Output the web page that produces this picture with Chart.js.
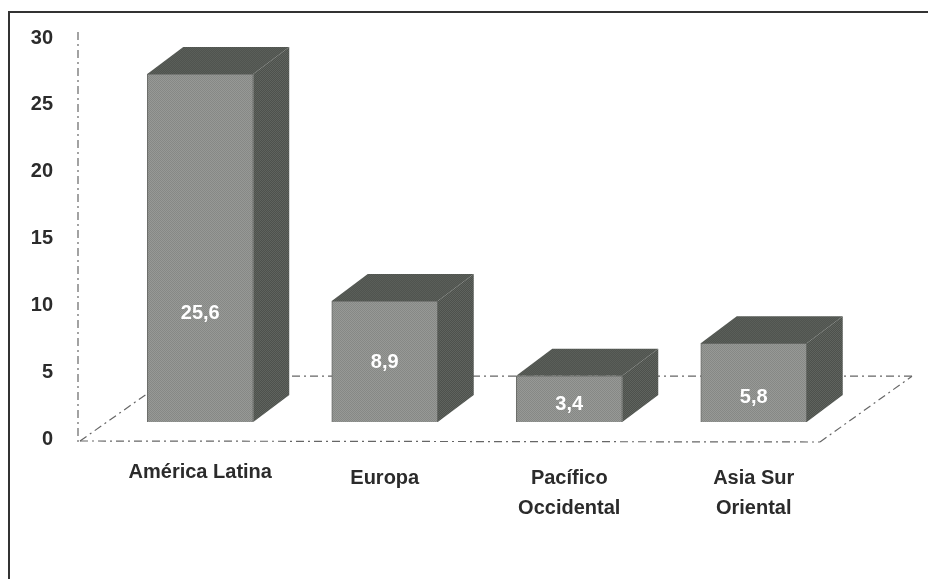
<!DOCTYPE html>
<html>
<head>
<meta charset="utf-8">
<style>
  html, body { margin: 0; padding: 0; background: #fff; }
  #wrap { width: 928px; height: 579px; }
</style>
<script src="https://cdn.jsdelivr.net/npm/chart.js@4"></script>
</head>
<body>
<div id="wrap"><canvas id="myChart" width="928" height="579"></canvas></div>
<script>
const categories = [['América Latina'], ['Europa'], ['Pacífico', 'Occidental'], ['Asia Sur', 'Oriental']];
const values = [25.6, 8.9, 3.4, 5.8];
const yTicks = [0, 5, 10, 15, 20, 25, 30];

// how far each value label sits below the middle of its bar front
const labelDrop = [65, 1, 6, 15];

const depthX = 36;
const depthY = 27;
const textFont = '"Liberation Sans", Arial, sans-serif';

function halftone(a, b) {
    const c = document.createElement('canvas');
    c.width = 2;
    c.height = 2;
    const g = c.getContext('2d');
    g.fillStyle = a;
    g.fillRect(0, 0, 2, 2);
    g.fillStyle = b;
    g.fillRect(0, 0, 1, 1);
    g.fillRect(1, 1, 1, 1);
    return g.createPattern(c, 'repeat');
}

function dashLine(ctx, x1, y1, x2, y2) {
    ctx.beginPath();
    ctx.moveTo(x1, y1);
    ctx.lineTo(x2, y2);
    ctx.stroke();
}

const floorPlugin = {
    id: 'floor',
    beforeDraw(chart) {
        const {ctx, width, height} = chart;
        ctx.save();
        // scanned page frame, open at the bottom and right
        ctx.strokeStyle = '#333';
        ctx.lineWidth = 2;
        ctx.beginPath();
        ctx.moveTo(9, height);
        ctx.lineTo(9, 12);
        ctx.lineTo(width, 12);
        ctx.stroke();
        ctx.restore();
    },
    beforeDatasetsDraw(chart) {
        const {ctx, chartArea, scales} = chart;
        const left = chartArea.left - 30;
        const floorFront = scales.y.getPixelForValue(0) + 5;
        const floorBack = scales.y.getPixelForValue(4.55);
        ctx.save();
        ctx.strokeStyle = '#666';
        ctx.lineWidth = 1.2;
        ctx.setLineDash([8, 4, 2, 4]);
        dashLine(ctx, left, scales.y.getPixelForValue(30) - 4, left, floorFront);
        dashLine(ctx, left + 2, floorFront - 1, left + 742, floorFront);
        dashLine(ctx, left + 742, floorFront, left + 834, floorBack);
        dashLine(ctx, left + 834, floorBack, left + 100, floorBack);
        dashLine(ctx, left + 2, floorFront - 1, left + 94, floorBack);
        ctx.restore();
    }
};

const boxPlugin = {
    id: 'box',
    afterDatasetsDraw(chart) {
        const {ctx} = chart;
        const bars = chart.getDatasetMeta(0).data;
        const base = chart.scales.yBars.getPixelForValue(0);
        const sideFill = halftone('#4d514c', '#5f635e');
        const topFill = halftone('#50544f', '#5a5e59');
        bars.forEach((bar, i) => {
            const l = bar.x - bar.width / 2;
            const r = bar.x + bar.width / 2;
            const t = bar.y;
            ctx.save();
            ctx.fillStyle = topFill;
            ctx.beginPath();
            ctx.moveTo(l, t);
            ctx.lineTo(l + depthX, t - depthY);
            ctx.lineTo(r + depthX, t - depthY);
            ctx.lineTo(r, t);
            ctx.closePath();
            ctx.fill();
            ctx.fillStyle = sideFill;
            ctx.beginPath();
            ctx.moveTo(r, t);
            ctx.lineTo(r + depthX, t - depthY);
            ctx.lineTo(r + depthX, base - depthY);
            ctx.lineTo(r, base);
            ctx.closePath();
            ctx.fill();
            ctx.fillStyle = '#fff';
            ctx.font = 'bold 20px ' + textFont;
            ctx.textAlign = 'center';
            ctx.textBaseline = 'middle';
            ctx.fillText(String(values[i]).replace('.', ','), bar.x, (t + base) / 2 + labelDrop[i]);
            ctx.restore();
        });
    }
};

new Chart(document.getElementById('myChart'), {
    type: 'bar',
    data: {
        labels: categories,
        datasets: [{
            data: values,
            yAxisID: 'yBars',
            barThickness: 106,
            backgroundColor: halftone('#979996', '#868885'),
            borderColor: '#6a6c69',
            borderWidth: 1
        }]
    },
    plugins: [floorPlugin, boxPlugin],
    options: {
        responsive: false,
        animation: false,
        layout: {padding: {top: 36, right: 82, left: 0, bottom: 0}},
        plugins: {legend: {display: false}, tooltip: {enabled: false}},
        scales: {
            x: {
                grid: {display: false},
                border: {display: false},
                afterFit(scale) { scale.height = 142; },
                ticks: {
                    padding: 18,
                    crossAlign: 'near',
                    maxRotation: 0,
                    autoSkip: false,
                    color: '#2b2b2b',
                    font: c => ({family: textFont, weight: 'bold', size: 20, lineHeight: c.index === 0 ? '18px' : '30px'})
                }
            },
            y: {
                min: 0,
                max: 30,
                grid: {display: false, drawTicks: false},
                border: {display: false},
                afterFit(scale) {
                    scale.width = 108;
                    // the big tick padding would otherwise push the chart area down
                    scale.paddingTop = 0;
                    scale.paddingBottom = 0;
                },
                afterBuildTicks(scale) { scale.ticks = yTicks.map(v => ({value: v})); },
                ticks: {
                    padding: 55,
                    labelOffset: 2,
                    color: '#2b2b2b',
                    font: {family: textFont, weight: 'bold', size: 20}
                }
            },
            // the bars stand on the floor, a little above the axis zero
            yBars: {
                display: false,
                min: -1.1,
                max: 28.4
            }
        }
    }
});
</script>
</body>
</html>
